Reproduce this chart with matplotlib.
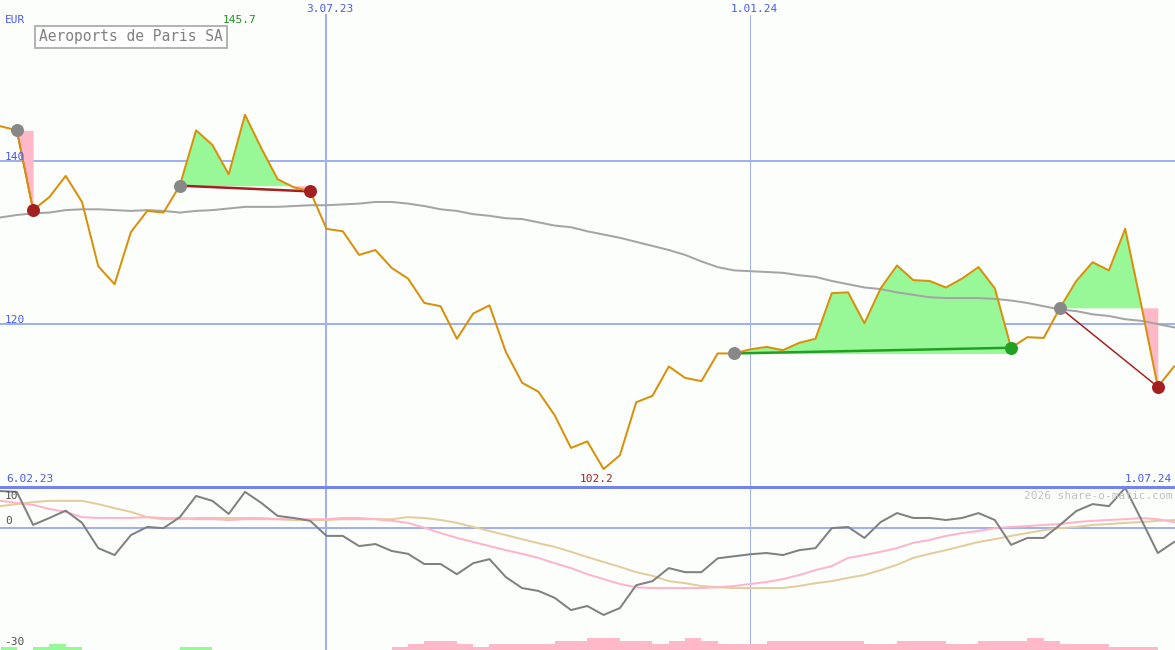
import numpy as np
import pandas as pd
import matplotlib
matplotlib.use("Agg")
import matplotlib.pyplot as plt

# weekly closes, Aeroports de Paris (EUR)
dates = pd.date_range("2023-02-13", periods=73, freq="7D")
price = [144.3, 143.8, 134.0, 135.6, 138.2, 135.0, 127.1, 124.9, 131.3, 133.9,
         133.7, 137.0, 143.8, 142.0, 138.4, 145.7, 141.6, 137.8, 136.8, 136.3,
         131.7, 131.4, 128.5, 129.1, 126.9, 125.6, 122.6, 122.2, 118.2, 121.3,
         122.3, 116.6, 112.8, 111.7, 108.8, 104.8, 105.6, 102.2, 103.9, 110.4,
         111.2, 114.8, 113.4, 113.0, 116.4, 116.4, 116.9, 117.2, 116.8, 117.7,
         118.2, 123.8, 123.9, 120.1, 124.4, 127.2, 125.4, 125.3, 124.5, 125.6,
         127.0, 124.4, 117.1, 118.4, 118.3, 122.0, 125.3, 127.6, 126.6, 131.7,
         122.2, 112.3, 114.8]
ma = [133.1, 133.4, 133.6, 133.7, 134.0, 134.1, 134.1, 134.0, 133.9, 134.0,
      133.9, 133.7, 133.9, 134.0, 134.2, 134.4, 134.4, 134.4, 134.5, 134.6,
      134.6, 134.7, 134.8, 135.0, 135.0, 134.8, 134.5, 134.1, 133.9, 133.5,
      133.3, 133.0, 132.9, 132.5, 132.1, 131.9, 131.4, 131.0, 130.6, 130.1,
      129.6, 129.1, 128.5, 127.7, 127.0, 126.6, 126.5, 126.4, 126.3, 126.0,
      125.8, 125.3, 124.9, 124.5, 124.3, 123.9, 123.6, 123.3, 123.2, 123.2,
      123.2, 123.1, 122.9, 122.6, 122.2, 121.8, 121.6, 121.2, 121.0, 120.6,
      120.4, 120.0, 119.6]

# trades: (entry index, exit index)
trades = [(1, 2), (11, 19), (45, 62), (65, 71)]

# lower panel
mom = [9.0, 8.8, 0.7, 2.4, 4.2, 1.2, -5.0, -6.7, -1.8, 0.2,
       -0.1, 2.6, 7.8, 6.6, 3.4, 8.8, 6.1, 2.9, 2.4, 1.7,
       -2.0, -2.0, -4.5, -4.0, -5.7, -6.4, -8.9, -8.9, -11.4, -8.7,
       -7.7, -12.1, -14.8, -15.5, -17.2, -20.2, -19.2, -21.4, -19.7, -14.1,
       -13.1, -9.9, -10.9, -10.9, -7.5, -7.0, -6.5, -6.2, -6.7, -5.5,
       -5.0, -0.1, 0.2, -2.5, 1.4, 3.6, 2.4, 2.4, 1.9, 2.4,
       3.6, 1.9, -4.2, -2.5, -2.5, 0.7, 4.1, 5.8, 5.3, 9.8,
       1.9, -6.2, -3.5]
sig_pink = [6.6, 6.1, 5.6, 4.6, 3.9, 2.6, 2.4, 2.4, 2.4, 2.6,
            2.4, 2.4, 2.1, 2.1, 1.9, 2.1, 2.1, 2.1, 2.1, 2.1,
            2.1, 2.4, 2.4, 2.1, 1.7, 1.2, 0.0, -1.3, -2.5, -3.5,
            -4.5, -5.5, -6.4, -7.4, -8.7, -9.9, -11.4, -12.6, -13.8, -14.6,
            -14.8, -14.8, -14.8, -14.8, -14.6, -14.3, -13.8, -13.3, -12.6, -11.6,
            -10.4, -9.4, -7.4, -6.7, -5.9, -5.0, -3.7, -3.0, -2.0, -1.3,
            -0.8, -0.1, 0.2, 0.4, 0.7, 0.9, 1.4, 1.7, 1.9, 2.1,
            2.4, 2.1, 1.4]
sig_tan = [5.3, 5.8, 6.3, 6.6, 6.6, 6.6, 5.8, 4.8, 3.9, 2.6,
           2.1, 2.1, 2.4, 2.4, 2.4, 2.4, 2.4, 2.1, 1.9, 1.9,
           1.9, 2.1, 2.1, 2.1, 2.1, 2.6, 2.4, 1.9, 1.2, 0.2,
           -0.8, -1.8, -2.8, -3.8, -4.7, -5.9, -7.2, -8.4, -9.6, -10.9,
           -11.8, -13.1, -13.6, -14.3, -14.6, -14.8, -14.8, -14.8, -14.8, -14.3,
           -13.6, -13.1, -12.3, -11.6, -10.4, -9.1, -7.4, -6.4, -5.5, -4.5,
           -3.5, -2.8, -2.0, -1.3, -0.6, -0.1, 0.2, 0.7, 0.9, 1.2,
           1.4, 1.7, 1.9]
# histogram levels at the bottom (+ green, - pink)
bars = [1, 0, 1, 2, 1, 0, 0, 0, 0, 0,
        0, 1, 1, 0, 0, 0, 0, 0, 0, 0,
        0, 0, 0, 0, -1, -2, -3, -3, -2, -1,
        -2, -2, -2, -2, -3, -3, -4, -4, -3, -3,
        -2, -3, -4, -3, -2, -2, -2, -3, -3, -3,
        -3, -3, -3, -2, -2, -3, -3, -3, -2, -2,
        -3, -3, -3, -4, -3, -2, -2, -2, -1, -1,
        -1, 0, 0]

price = np.array(price)
x = np.arange(len(price))
W, H = 1175, 650
px = 72 / 100  # points per pixel

bg = "#fbfefb"
blue = "#a0b0f0"
mono = "DejaVu Sans Mono"

fig = plt.figure(figsize=(W / 100, H / 100), dpi=100, facecolor=bg)
ax1 = fig.add_axes([0, 163 / H, 1, 487 / H], facecolor=bg)
ax2 = fig.add_axes([0, 0, 1, 163 / H], facecolor=bg)
for ax in (ax1, ax2):
    ax.set_xlim(-0.5 / 16.3, 1174.5 / 16.3)
    ax.axis("off")
ax1.set_ylim(100, 159.8)
ax2.set_ylim(-30, 10)

# grid
for lvl in (140, 120):
    ax1.axhline(lvl, color=blue, lw=2 * px, zorder=1)
i_jul = dates.get_loc(pd.Timestamp("2023-07-03"))
i_jan = dates.get_loc(pd.Timestamp("2024-01-01"))
ax1.axvline(i_jul, ymax=1 - 15 / 487, color=blue, lw=2 * px, zorder=1)
ax1.axvline(i_jan, ymax=1 - 15 / 487, color=blue, lw=1 * px, zorder=1)
ax2.axvline(i_jul, color=blue, lw=2 * px, zorder=1)
ax2.axvline(i_jan, color=blue, lw=1 * px, zorder=1)
ax2.axhline(0, color=blue, lw=2 * px, zorder=1)
ax2.axhline(10, color="#7484ee", lw=3 * px, zorder=5, clip_on=False)

# trades
for a, b in trades:
    xs = x[a:b + 1]
    ps = price[a:b + 1]
    lvl = price[a]
    ax1.fill_between(xs, ps, lvl, where=ps >= lvl, interpolate=True,
                     color="#98f898", lw=0, zorder=2)
    ax1.fill_between(xs, ps, lvl, where=ps < lvl, interpolate=True,
                     color="#ffb8c8", lw=0, zorder=2)

ax1.plot(x, ma, color="#a4a4a4", lw=2 * px, zorder=3)

for a, b in trades:
    win = price[b] > price[a]
    lc = "#22a022" if win else "#a42020"
    lw = 2.5 if b - a > 2 and abs(price[b] - price[a]) < 2 else 1.5
    ax1.plot([a, b], [price[a], price[b]], color=lc, lw=lw * px, zorder=4)

ax1.plot(x, price, color="#d8900a", lw=2 * px, zorder=5)

for a, b in trades:
    win = price[b] > price[a]
    ax1.plot(a, price[a], "o", color="#888888", ms=13 * px, mew=0, zorder=6)
    ax1.plot(b, price[b], "o", color="#22a022" if win else "#a42020",
             ms=13 * px, mew=0, zorder=6)

# lower panel
ax2.bar(x, np.abs(bars) * 0.74, bottom=-30, width=1, align="edge",
        color=["#98f898" if v > 0 else "#ffb8c8" for v in bars], lw=0, zorder=1)
ax2.plot(x, sig_tan, color="#e4cc9c", lw=2 * px, zorder=2)
ax2.plot(x, sig_pink, color="#ffb4cc", lw=2 * px, zorder=2)
ax2.plot(x, mom, color="#808080", lw=2 * px, zorder=3)


def label(xp, yp, s, color, ha="left", size=8, **kw):
    fig.text(xp / W, 1 - yp / H, s, color=color, ha=ha, va="center",
             family=mono, fontsize=size, **kw)


label(5, 20, "EUR", "#4a5af0")
label(240, 20, "145.7", "#229022", ha="center")
label(330, 9, "3.07.23", "#4a5af0", ha="center")
label(754, 9, "1.01.24", "#4a5af0", ha="center")
label(5, 157, "140", "#4a5af0")
label(5, 320, "120", "#4a5af0")
label(6, 479, "6.02.23", "#4a5af0")
label(597, 479, "102.2", "#a42020", ha="center")
label(1172, 479, "1.07.24", "#4a5af0", ha="right")
label(5, 496, "10", "#505050")
label(5, 521, "0", "#505050")
label(4, 642, "-30", "#505050")
label(1172, 496, "2026 share-o-matic.com", "#c0c0c0", ha="right")
label(131, 37, "Aeroports de Paris SA", "#808080", ha="center", size=10.5,
      bbox=dict(boxstyle="square,pad=0.25", fc="white", ec="#b4b4b4", lw=2 * px))

fig.savefig("out.png", dpi=100, facecolor=bg)
